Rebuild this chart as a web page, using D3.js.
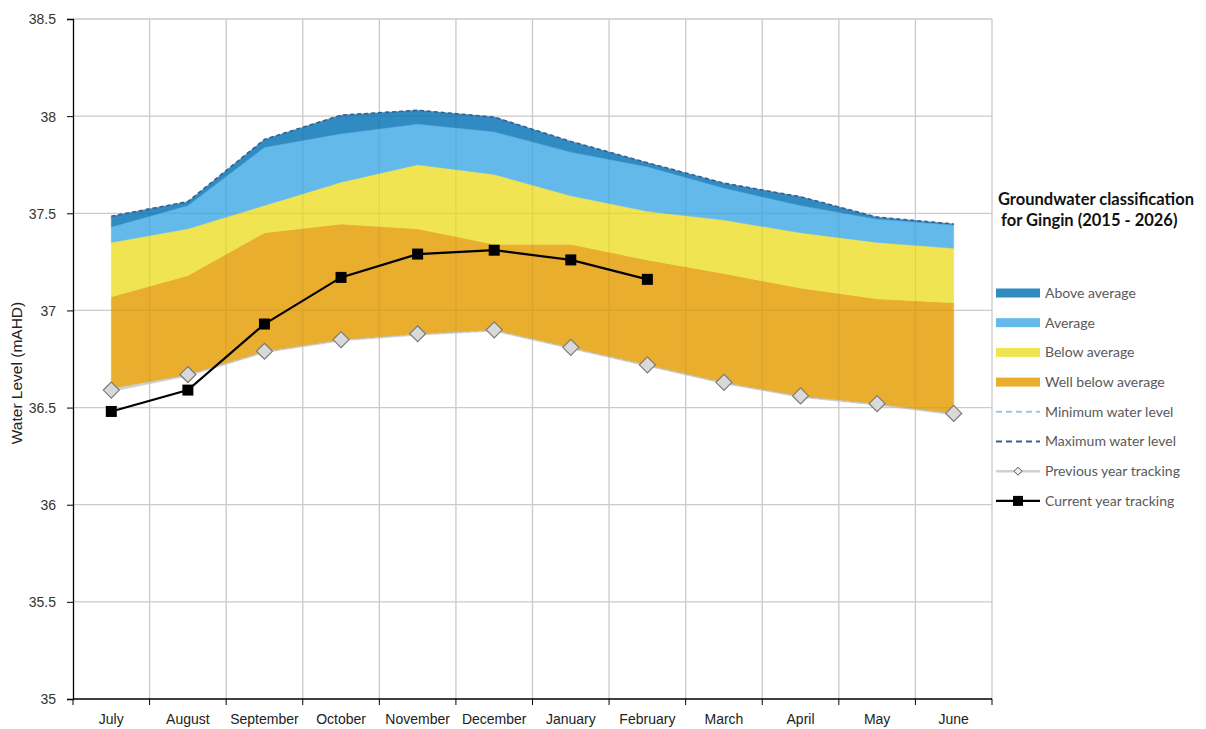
<!DOCTYPE html>
<html>
<head>
<meta charset="utf-8">
<script src="https://cdn.jsdelivr.net/npm/d3@7"></script>
<style>
  html, body { margin: 0; padding: 0; background: #fff; }
  svg { display: block; }
</style>
</head>
<body>
<svg id="chart" width="1206" height="729"></svg>
<script>
const months = ["July","August","September","October","November","December","January","February","March","April","May","June"];
const yTicks = [35, 35.5, 36, 36.5, 37, 37.5, 38, 38.5];
const minLevel     = [36.60, 36.67, 36.79, 36.85, 36.88, 36.90, 36.81, 36.72, 36.63, 36.56, 36.52, 36.47];
const wellBelowTop = [37.07, 37.18, 37.40, 37.445, 37.42, 37.34, 37.34, 37.26, 37.19, 37.115, 37.06, 37.04];
const belowTop     = [37.35, 37.42, 37.54, 37.66, 37.75, 37.70, 37.59, 37.51, 37.465, 37.40, 37.35, 37.32];
const averageTop   = [37.43, 37.54, 37.84, 37.91, 37.96, 37.92, 37.815, 37.74, 37.63, 37.54, 37.47, 37.44];
const maxLevel     = [37.485, 37.56, 37.88, 38.005, 38.03, 37.995, 37.87, 37.76, 37.655, 37.585, 37.48, 37.445];
const prevYear     = [36.59, 36.67, 36.79, 36.85, 36.88, 36.90, 36.81, 36.72, 36.63, 36.56, 36.52, 36.47];
const currentYear  = [36.48, 36.59, 36.93, 37.17, 37.29, 37.31, 37.26, 37.16];

const colors = {
  above: "#2f8bc2", average: "#63b9e9", below: "#f1e452", wellBelow: "#eaae2f",
  minLine: "#9dc3e6", maxLine: "#3b5e8c", prev: "#d0d0d0", cur: "#000"
};

const svg = d3.select("#chart");
const L = 73, R = 992, T = 19, B = 699;
const x = d3.scaleBand().domain(months).range([L, R]);
const y = d3.scaleLinear().domain([35, 38.5]).range([B, T]);
const cx = m => x(m) + x.bandwidth() / 2;
const bounds = months.map(m => x(m)).concat([R]).slice(1);

function drawGrid(stroke, opacity) {
  const g = svg.append("g").attr("opacity", opacity);
  g.selectAll("line.h").data(yTicks.filter(t => t > 35)).join("line")
    .attr("x1", L).attr("x2", R).attr("y1", d => y(d)).attr("y2", d => y(d))
    .attr("stroke", stroke).attr("stroke-width", 1.3);
  g.selectAll("line.v").data(bounds).join("line")
    .attr("x1", d => d).attr("x2", d => d).attr("y1", T).attr("y2", B)
    .attr("stroke", stroke).attr("stroke-width", 1.3);
}
drawGrid("#d9d9d9", 1);

// previous year line (under bands)
const lineGen = d3.line().x(d => cx(d.m)).y(d => y(d.v));
const prevData = months.map((m, i) => ({m, v: prevYear[i]}));
svg.append("path").datum(prevData).attr("d", lineGen)
  .attr("fill", "none").attr("stroke", colors.prev).attr("stroke-width", 3.5);

// min line
svg.append("path").datum(months.map((m, i) => ({m, v: minLevel[i]}))).attr("d", lineGen)
  .attr("fill", "none").attr("stroke", colors.minLine).attr("stroke-width", 1.5).attr("stroke-dasharray", "5,3");

// bands
const bands = [
  {lo: minLevel, hi: wellBelowTop, c: colors.wellBelow},
  {lo: wellBelowTop, hi: belowTop, c: colors.below},
  {lo: belowTop, hi: averageTop, c: colors.average},
  {lo: averageTop, hi: maxLevel, c: colors.above}
];
const areaGen = d3.area().x(d => cx(d.m)).y0(d => y(d.lo)).y1(d => y(d.hi));
bands.forEach(b => {
  svg.append("path")
    .datum(months.map((m, i) => ({m, lo: b.lo[i], hi: b.hi[i]})))
    .attr("d", areaGen).attr("fill", b.c).attr("stroke", b.c).attr("stroke-width", 0.5);
});

// faint grid showing through bands
drawGrid("#000", 0.06);

// max dashed line
svg.append("path").datum(months.map((m, i) => ({m, v: maxLevel[i]}))).attr("d", lineGen)
  .attr("fill", "none").attr("stroke", colors.maxLine).attr("stroke-width", 1.6).attr("stroke-dasharray", "4,3");

// diamonds
const ds = 8;
svg.selectAll("path.dia").data(prevData).join("path")
  .attr("d", d => `M${cx(d.m)},${y(d.v)-ds} L${cx(d.m)+ds},${y(d.v)} L${cx(d.m)},${y(d.v)+ds} L${cx(d.m)-ds},${y(d.v)} Z`)
  .attr("fill", "#d9d9d9").attr("stroke", "#7a7a7a").attr("stroke-width", 1.2);

// current year
const curData = currentYear.map((v, i) => ({m: months[i], v}));
svg.append("path").datum(curData).attr("d", lineGen)
  .attr("fill", "none").attr("stroke", "#000").attr("stroke-width", 2.2);
svg.selectAll("rect.sq").data(curData).join("rect")
  .attr("x", d => cx(d.m) - 5.5).attr("y", d => y(d.v) - 5.5)
  .attr("width", 11).attr("height", 11).attr("fill", "#000");

// axes
const yAxis = svg.append("g").attr("transform", `translate(${L},0)`)
  .call(d3.axisLeft(y).tickValues(yTicks).tickSize(6).tickFormat(d => d));
yAxis.select(".domain").attr("stroke", "#000").attr("stroke-width", 1.3);
yAxis.selectAll(".tick line").attr("stroke", "#000");
yAxis.selectAll("text").attr("font-family", "Liberation Sans, Arial, sans-serif")
  .attr("font-size", 14).attr("fill", "#333").attr("x", -17).attr("dy", "0.35em");

const xAxisG = svg.append("g").attr("transform", `translate(0,${B})`);
xAxisG.append("line").attr("x1", L).attr("x2", R).attr("stroke", "#000").attr("stroke-width", 1.3);
xAxisG.selectAll("line.t").data([L].concat(bounds)).join("line")
  .attr("x1", d => d).attr("x2", d => d).attr("y1", 0).attr("y2", 6).attr("stroke", "#000");
xAxisG.selectAll("text").data(months).join("text")
  .attr("x", d => cx(d)).attr("y", 25).attr("text-anchor", "middle")
  .attr("font-family", "Liberation Sans Narrow, Arial Narrow, Liberation Sans, sans-serif")
  .attr("font-stretch", "condensed")
  .attr("font-size", 14).attr("fill", "#222").text(d => d);

svg.append("text").attr("transform", "translate(22,373) rotate(-90)")
  .attr("text-anchor", "middle").attr("font-family", "Liberation Sans Narrow, Arial Narrow, Liberation Sans, sans-serif")
  .attr("font-size", 15.5).attr("fill", "#222").text("Water Level (mAHD)");

// legend
const lg = svg.append("g");
lg.append("text").attr("x", 998).attr("y", 205).attr("font-family", "Lato, Open Sans, sans-serif")
  .attr("font-weight", "bold").attr("font-size", 16.5).attr("fill", "#111").text("Groundwater classification");
lg.append("text").attr("x", 1001).attr("y", 226).attr("font-family", "Lato, Open Sans, sans-serif")
  .attr("font-weight", "bold").attr("font-size", 16.5).attr("fill", "#111").text("for Gingin (2015 - 2026)");

const legendItems = [
  {t: "Above average", type: "rect", c: colors.above},
  {t: "Average", type: "rect", c: colors.average},
  {t: "Below average", type: "rect", c: colors.below},
  {t: "Well below average", type: "rect", c: colors.wellBelow},
  {t: "Minimum water level", type: "dash", c: colors.minLine},
  {t: "Maximum water level", type: "dash", c: colors.maxLine},
  {t: "Previous year tracking", type: "prev"},
  {t: "Current year tracking", type: "cur"}
];
legendItems.forEach((it, i) => {
  const yy = 293 + i * 29.7;
  if (it.type === "rect") {
    lg.append("rect").attr("x", 996).attr("y", yy - 4.5).attr("width", 44).attr("height", 9).attr("fill", it.c);
  } else if (it.type === "dash") {
    lg.append("line").attr("x1", 996).attr("x2", 1040).attr("y1", yy).attr("y2", yy)
      .attr("stroke", it.c).attr("stroke-width", 2).attr("stroke-dasharray", "6,4");
  } else if (it.type === "prev") {
    lg.append("line").attr("x1", 996).attr("x2", 1040).attr("y1", yy).attr("y2", yy)
      .attr("stroke", colors.prev).attr("stroke-width", 2.5);
    lg.append("path").attr("d", `M1018,${yy-4} L1022,${yy} L1018,${yy+4} L1014,${yy} Z`)
      .attr("fill", "#eee").attr("stroke", "#555").attr("stroke-width", 1);
  } else {
    lg.append("line").attr("x1", 996).attr("x2", 1040).attr("y1", yy).attr("y2", yy)
      .attr("stroke", "#000").attr("stroke-width", 2.2);
    lg.append("rect").attr("x", 1013).attr("y", yy - 5).attr("width", 10).attr("height", 10).attr("fill", "#000");
  }
  lg.append("text").attr("x", 1045).attr("y", yy).attr("dy", "0.35em")
    .attr("font-family", "Lato, Open Sans, sans-serif").attr("font-size", 14).attr("fill", "#595959").text(it.t);
});
</script>
</body>
</html>
